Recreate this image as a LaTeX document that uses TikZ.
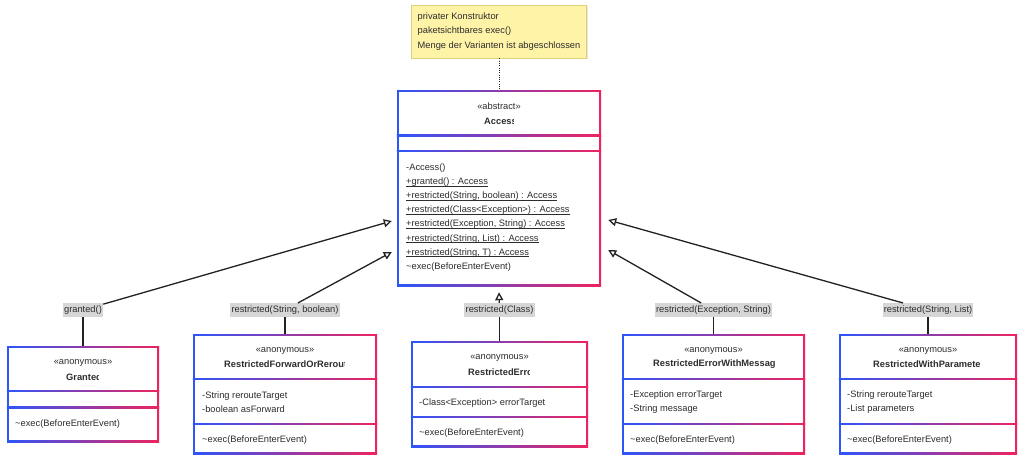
\documentclass[tikz,border=0pt]{standalone}
\usepackage{fontspec}
\setmainfont{Liberation Sans}
\usetikzlibrary{arrows.meta,shadows}

\definecolor{umlblue}{RGB}{45,85,250}
\definecolor{umlred}{RGB}{238,35,95}
\definecolor{umltext}{RGB}{45,45,45}
\definecolor{linecol}{RGB}{34,34,34}
\definecolor{notefill}{RGB}{255,243,168}
\definecolor{notedraw}{RGB}{222,208,120}
\definecolor{labelfill}{RGB}{214,214,214}

\newcommand{\staticop}[1]{\underline{\smash{#1}}}

\begin{document}
\begin{tikzpicture}[x=1pt,y=-1pt]
	\tikzstyle{every node}=[font=\fontsize{9.3}{14.1}\selectfont, text=umltext]
	\tikzstyle{classbox}=[rectangle, inner sep=0pt, left color=umlblue, right color=umlred,
		path picture={\fill[white] ([shift={(1.6pt,-1.6pt)}]path picture bounding box.north west) rectangle ([shift={(-1.6pt,1.6pt)}]path picture bounding box.south east);}]
	\tikzstyle{divider}=[left color=umlblue, right color=umlred]
	\tikzstyle{stereo}=[inner sep=0pt]
	\tikzstyle{clsname}=[inner sep=0pt, anchor=west, font=\fontsize{9.3}{14.1}\selectfont\bfseries]
	\tikzstyle{members}=[inner sep=0pt, anchor=west, align=left]
	\tikzstyle{msglabel}=[fill=labelfill, inner xsep=1.2pt, inner ysep=2.5pt]
	\tikzstyle{inherit}=[draw=linecol, line width=1.3pt, -{Triangle[open, length=8pt, width=8pt]}]
	\tikzstyle{assoc}=[draw=linecol, line width=1.3pt]
	\tikzstyle{note}=[rectangle, fill=notefill, draw=notedraw, line width=0.8pt, minimum width=175pt, minimum height=53pt,
		align=left, drop shadow={opacity=0.2, shadow xshift=1pt, shadow yshift=-1pt}]

	\path[fill=white] (0,0) rectangle (1024,460);
	\useasboundingbox (0,0) rectangle (1024,460);

	%% note
	\node[note] (note) at (499,31.5) {privater Konstruktor\\paketsichtbares exec()\\Menge der Varianten ist abgeschlossen};

	%% abstract class
	\node[classbox, minimum width=204pt, minimum height=196pt] (access) at (499,188) {};
	\shade[divider] (access.west |- 0,134.9) rectangle (access.east |- 0,136.1);
	\shade[divider] (access.west |- 0,150.7) rectangle (access.east |- 0,151.9);
	\node[stereo] (accessst) at (499,106) {«abstract»};
	\begin{scope}
		\clip (484,112) rectangle (513.5,130);
		\node[clsname] (accessnm) at (484,121) {Access};
	\end{scope}
	\node[members] (accessops) at (406,217.5) {-Access()\\
		\staticop{+granted() : Access}\\
		\staticop{+restricted(String, boolean) : Access}\\
		\staticop{+restricted(Class<Exception>) : Access}\\
		\staticop{+restricted(Exception, String) : Access}\\
		\staticop{+restricted(String, List) : Access}\\
		\staticop{+restricted(String, T) : Access}\\
		\textasciitilde exec(BeforeEnterEvent)};

	\draw[draw=linecol, line width=1pt, dash pattern=on 1pt off 1.3pt] (note) -- (access);

	%% anonymous classes
	\node[classbox, minimum width=152pt, minimum height=96pt] (granted) at (83,394) {};
	\shade[divider] (granted.west |- 0,390.4) rectangle (granted.east |- 0,391.6);
	\shade[divider] (granted.west |- 0,406.9) rectangle (granted.east |- 0,408.1);
	\node[stereo] (grantedst) at (83,362.5) {«anonymous»};
	\begin{scope}
		\clip (66,370) rectangle (98.8,385);
		\node[clsname] (grantednm) at (66,377) {Granted};
	\end{scope}
	\node[members] (grantedops) at (15,424) {\textasciitilde exec(BeforeEnterEvent)};

	\node[classbox, minimum width=184pt, minimum height=120pt] (forward) at (285,394) {};
	\shade[divider] (forward.west |- 0,378.4) rectangle (forward.east |- 0,379.6);
	\shade[divider] (forward.west |- 0,423.4) rectangle (forward.east |- 0,424.6);
	\node[stereo] (forwardst) at (285,351) {«anonymous»};
	\begin{scope}
		\clip (224,357) rectangle (344.5,372);
		\node[clsname] (forwardnm) at (224,364.5) {RestrictedForwardOrReroute};
	\end{scope}
	\node[members] (forwardattr) at (202,402) {-String rerouteTarget\\-boolean asForward};
	\node[members] (forwardops) at (202,440) {\textasciitilde exec(BeforeEnterEvent)};

	\node[classbox, minimum width=177pt, minimum height=106pt] (error) at (499.5,394) {};
	\shade[divider] (error.west |- 0,386.4) rectangle (error.east |- 0,387.6);
	\shade[divider] (error.west |- 0,416.4) rectangle (error.east |- 0,417.6);
	\node[stereo] (errorst) at (499.5,358) {«anonymous»};
	\begin{scope}
		\clip (468,364) rectangle (529.3,380);
		\node[clsname] (errornm) at (468,372) {RestrictedError};
	\end{scope}
	\node[members] (errorattr) at (419,403) {-Class<Exception> errorTarget};
	\node[members] (errorops) at (419,433) {\textasciitilde exec(BeforeEnterEvent)};

	\node[classbox, minimum width=183pt, minimum height=120pt] (message) at (713.5,394) {};
	\shade[divider] (message.west |- 0,378.4) rectangle (message.east |- 0,379.6);
	\shade[divider] (message.west |- 0,423.4) rectangle (message.east |- 0,424.6);
	\node[stereo] (messagest) at (713.5,351) {«anonymous»};
	\begin{scope}
		\clip (653,357) rectangle (774,372);
		\node[clsname] (messagenm) at (653,364.5) {RestrictedErrorWithMessage};
	\end{scope}
	\node[members] (messageattr) at (630,402) {-Exception errorTarget\\-String message};
	\node[members] (messageops) at (630,440) {\textasciitilde exec(BeforeEnterEvent)};

	\node[classbox, minimum width=178pt, minimum height=120pt] (params) at (928,394) {};
	\shade[divider] (params.west |- 0,378.4) rectangle (params.east |- 0,379.6);
	\shade[divider] (params.west |- 0,423.4) rectangle (params.east |- 0,424.6);
	\node[stereo] (paramsst) at (928,351) {«anonymous»};
	\begin{scope}
		\clip (873,357) rectangle (979.5,372);
		\node[clsname] (paramsnm) at (873,364.5) {RestrictedWithParameters};
	\end{scope}
	\node[members] (paramsattr) at (847,402) {-String rerouteTarget\\-List parameters};
	\node[members] (paramsops) at (847,440) {\textasciitilde exec(BeforeEnterEvent)};

	%% factory method labels
	\node[msglabel] (lblgranted) at (83,310) {granted()};
	\node[msglabel] (lblforward) at (285,310) {restricted(String, boolean)};
	\node[msglabel] (lblerror) at (499.5,310) {restricted(Class)};
	\node[msglabel] (lblmessage) at (713.5,310) {restricted(Exception, String)};
	\node[msglabel] (lblparams) at (928,310) {restricted(String, List)};

	\draw[assoc] (lblgranted) -- (granted);
	\draw[assoc] (lblforward) -- (forward);
	\draw[assoc] (lblerror) -- (error);
	\draw[assoc] (lblmessage) -- (message);
	\draw[assoc] (lblparams) -- (params);

	\draw[inherit] (lblgranted) -- ([shift={(-5pt,-33pt)}]access.west);
	\draw[inherit] (lblforward) -- ([shift={(-5pt,-64pt)}]access.west);
	\draw[inherit] (lblerror) -- ([yshift=-6pt]access.south);
	\draw[inherit] (lblmessage) -- ([shift={(7pt,-62pt)}]access.east);
	\draw[inherit] (lblparams) -- ([shift={(7pt,-32pt)}]access.east);

\end{tikzpicture}
\end{document}
